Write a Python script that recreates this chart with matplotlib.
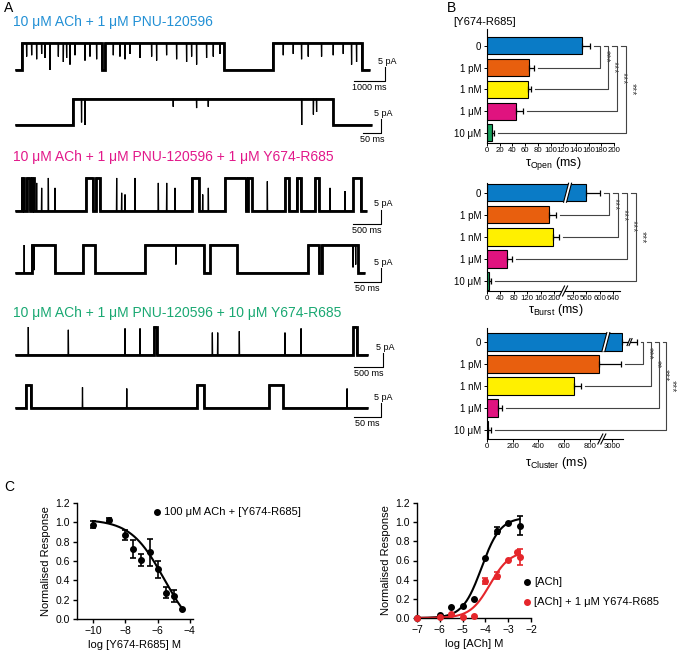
import numpy as np
import matplotlib
matplotlib.use('Agg')
import matplotlib.pyplot as plt
from matplotlib.lines import Line2D
from matplotlib.patches import Polygon
from matplotlib.transforms import IdentityTransform, blended_transform_factory

plt.rcParams['font.family'] = ['Liberation Sans', 'DejaVu Sans']
plt.rcParams['mathtext.fontset'] = 'custom'
plt.rcParams['mathtext.rm'] = 'Liberation Sans'
plt.rcParams['mathtext.it'] = 'Liberation Sans:italic'

# ---------------- data: single channel traces (times in ms, levels as fraction of open) ----
t1_total, t1_amp = 11450, 9.6
t1_open = [(215, 2796), (2903, 6743), (8312, 11183)]
t1_spk_t = [376, 538, 699, 860, 968, 1129, 1398, 1559, 1666, 1774, 1935, 2258, 2419, 2634,
            3171, 3386, 3548, 3709, 4031, 4408, 4569, 4891, 5214, 5536, 5698, 5859, 6181, 6396, 6611,
            8654, 8976, 9245, 9460, 9890, 10266, 10589, 10858, 11019]
t1_spk_lv = [0.5, 0.55, 0.4, 0.6, 0.45, 0.0, 0.5, 0.3, 0.45, 0.2, 0.55, 0.35, 0.5, 0.4,
             0.55, 0.5, 0.4, 0.6, 0.45, 0.5, 0.35, 0.55, 0.4, 0.3, 0.5, 0.2, 0.45, 0.5, 0.6,
             0.55, 0.6, 0.4, 0.5, 0.5, 0.55, 0.6, 0.2, 0.3]

t2_total, t2_amp = 1008, 9.3
t2_open = [(163, 899)]
t2_spk_t = [188, 198, 447, 513, 546, 810, 843, 852]
t2_spk_lv = [0.1, 0.0, 0.7, 0.65, 0.7, 0.0, 0.4, 0.5]

t3_total, t3_amp = 6348, 11.8
t3_open = [(120, 162), (211, 271), (301, 343), (1282, 1402), (1462, 1534), (3189, 3321),
           (3791, 4164), (4212, 4284), (4874, 4946), (5084, 5157), (5415, 5487), (6107, 6240)]
t3_spk_t = [391, 481, 602, 722, 1835, 1925, 1986, 2166, 2587, 2738, 2888, 3388, 3490, 4555, 5686, 5957]
t3_spk_lv = [0.85, 0.7, 1.0, 0.7, 1.0, 0.55, 0.5, 1.0, 0.85, 0.85, 0.7, 0.5, 0.7, 0.9, 0.7, 0.6]

t4_total, t4_amp = 648, 10.0
t4_open = [(31, 74), (126, 149), (241, 350), (362, 412), (543, 563), (568, 636)]
t4_spk_t = [17, 35, 298, 626, 631]
t4_spk_lv = [1.0, 0.1, 0.3, 0.2, 0.3]

t5_total, t5_amp = 6028, 10.0
t5_open = [(2372, 2417), (5773, 5830)]
t5_spk_t = [227, 910, 1877, 2133, 3367, 3458, 3827, 4606, 4880]
t5_spk_lv = [1.0, 0.9, 0.95, 0.95, 0.8, 0.8, 0.85, 0.8, 0.95]

t6_total, t6_amp = 654, 8.2
t6_open = [(20, 29), (337, 350), (471, 497)]
t6_spk_t = [125, 207, 615]
t6_spk_lv = [0.9, 0.85, 0.85]

# ---------------- data: dwell times (panel B) ----------------
conc_labels = ['0', '1 pM', '1 nM', '1 μM', '10 μM']
open_mean = [150, 66, 64, 45, 8]
open_sem = [12, 8, 5, 11, 3]
open_sig = ['***', '***', '***', '***']
burst_mean = [560, 186, 198, 59, 7]
burst_sem = [40, 20, 18, 15, 5]
burst_sig = ['***', '***', '***', '***']
cluster_mean = [3083, 875, 680, 83, 10]
cluster_sem = [112, 2197, 50, 31, 19]
cluster_sig = ['***', '**', '***', '***']

# ---------------- data: concentration response (panel C) ----------------
inh_x = [-10, -9, -8, -7.5, -7, -6.5, -6, -5.5, -5, -4.5]
inh_y = [0.976, 1.024, 0.872, 0.723, 0.612, 0.689, 0.516, 0.273, 0.239, 0.104]
inh_err = [0.038, 0.02, 0.05, 0.095, 0.065, 0.14, 0.087, 0.06, 0.06, 0.0]
inh_fit = (1.03, -0.2, -5.6, -0.42)   # top, bottom, logEC50, slope

ach_x = [-7, -6, -5.5, -5, -4.5, -4, -3.5, -3, -2.5]
ach_y = [0.0, 0.03, 0.11, 0.128, 0.198, 0.63, 0.91, 0.995, 0.963]
ach_err = [0, 0, 0, 0, 0, 0, 0.035, 0, 0.10]
ach_fit = (1.05, 0.0, -4.17, 1.05)

achy_x = [-7, -6, -5.5, -5, -4.5, -4, -3.5, -3, -2.6, -2.5]
achy_y = [0.0, 0.01, 0.04, 0.014, 0.02, 0.389, 0.44, 0.605, 0.685, 0.64]
achy_err = [0, 0, 0, 0, 0, 0.03, 0.036, 0, 0, 0.083]
achy_fit = (0.70, 0.0, -3.8, 1.0)

# ---------------- styles ----------------
W, H = 677, 653
BLUE_T, MAG_T, GREEN_T = '#2290d5', '#e2188a', '#19a872'
RED = '#e5262b'
bar_colors = ['#0a7bc6', '#e85f0e', '#fff000', '#e0137f', '#17a05b']
BRK = '#444444'

fig = plt.figure(figsize=(W / 100, H / 100), dpi=100)


def px_axes(x0, y0, x1, y1):
    return fig.add_axes([x0 / W, 1 - y1 / H, (x1 - x0) / W, (y1 - y0) / H])


def ftext(x, y, s, **kw):
    fig.text(x / W, 1 - y / H, s, **kw)


def trace_xy(total, amp, opens, spk_t, spk_lv, w):
    def lev(t):
        return amp if any(s <= t < e for s, e in opens) else 0.0
    events = [(s, None) for s, e in opens] + [(e, None) for s, e in opens]
    events += list(zip(spk_t, spk_lv))
    events.sort(key=lambda ev: ev[0])
    xs, ys = [0], [lev(0)]
    for t, lv in events:
        if lv is None:
            xs += [t, t]
            ys += [lev(t - 1e-6), lev(t + 1e-6)]
        else:
            c = lev(t)
            xs += [t - w, t, t + w]
            ys += [c, lv * amp, c]
    xs.append(total)
    ys.append(lev(total - 1e-6))
    return xs, ys


# ---------------- panel A ----------------
ftext(4, 8, 'A', fontsize=10, va='center')
ftext(13, 22, '10 μM ACh + 1 μM PNU-120596', color=BLUE_T, fontsize=10, va='center')
ftext(13, 157, '10 μM ACh + 1 μM PNU-120596 + 1 μM Y674-R685', color=MAG_T, fontsize=10, va='center')
ftext(13, 313, '10 μM ACh + 1 μM PNU-120596 + 10 μM Y674-R685', color=GREEN_T, fontsize=10, va='center')

pa_per_px = 5 / 14.0
traces = [
    (t1_total, t1_amp, t1_open, t1_spk_t, t1_spk_lv),
    (t2_total, t2_amp, t2_open, t2_spk_t, t2_spk_lv),
    (t3_total, t3_amp, t3_open, t3_spk_t, t3_spk_lv),
    (t4_total, t4_amp, t4_open, t4_spk_t, t4_spk_lv),
    (t5_total, t5_amp, t5_open, t5_spk_t, t5_spk_lv),
    (t6_total, t6_amp, t6_open, t6_spk_t, t6_spk_lv),
]
# baseline px, ms per px, scale bar ms, scale bar corner px
rows = [(70, 32.26, 1000, 385, 81), (125, 2.825, 50, 381, 133),
        (211, 18.05, 500, 381, 224), (273, 1.852, 50, 381, 282),
        (355, 17.06, 500, 383, 367), (408, 1.852, 50, 381, 417)]

for (total, amp, opens, st, sl), (base, mpp, bar_ms, cx, cy) in zip(traces, rows):
    ax = px_axes(15, base - 45, 420, base + 25)
    ax.set_xlim(0, 405 * mpp)
    ax.set_ylim(-25 * pa_per_px, 45 * pa_per_px)
    ax.axis('off')
    xs, ys = trace_xy(total, amp, opens, st, sl, 0.25 * mpp)
    ax.plot(xs, ys, color='black', lw=0.9, solid_joinstyle='miter')
    xs0, ys0 = trace_xy(total, amp, opens, [], [], 0)
    ax.plot(xs0, ys0, color='black', lw=2.0, solid_joinstyle='miter', solid_capstyle='butt')
    bx = (cx - 15) * mpp
    by = (base - cy) * pa_per_px
    ax.plot([bx - bar_ms, bx, bx], [by, by, by + 5], color='black', lw=0.8, clip_on=False)
    ax.text(bx + 2 * mpp, by + 5 + 1.5 * pa_per_px, '5 pA', fontsize=6.5, ha='center', va='bottom')
    ax.text(bx - bar_ms / 2, by - 2 * pa_per_px, f'{bar_ms} ms', fontsize=6.5, ha='center', va='top')

# ---------------- panel B ----------------
ftext(447, 8, 'B', fontsize=10, va='center')
ftext(453, 22, '[Y674-R685]', fontsize=8, va='center')


def break_scale(a, b, g):
    def fwd(x):
        x = np.asarray(x, float)
        return np.where(x <= a, x, np.where(x <= b, a + (x - a) * g / (b - a), x - b + a + g))

    def inv(t):
        t = np.asarray(t, float)
        return np.where(t <= a, t, np.where(t <= a + g, a + (t - a) * (b - a) / g, t + b - a - g))
    return fwd, inv


def slash(xc, yc, half_h, gap=3.0, slant=2.5):
    poly = [(xc - gap / 2 - slant, yc - half_h), (xc + gap / 2 - slant, yc - half_h),
            (xc + gap / 2 + slant, yc + half_h), (xc - gap / 2 + slant, yc + half_h)]
    fig.add_artist(Polygon(poly, closed=True, facecolor='white', edgecolor='none',
                           transform=IdentityTransform(), zorder=10))
    for dx in (-gap / 2, gap / 2):
        fig.add_artist(Line2D([xc + dx - slant, xc + dx + slant], [yc - half_h, yc + half_h],
                              color='black', lw=0.8, transform=IdentityTransform(), zorder=11))


def bar_panel(box, ylim, means, sems, sigs, vlines_px, xlim, ticks, brk=None):
    x0, y0, x1, y1 = box
    ax = px_axes(x0, y0, x1, y1)
    if brk is not None:
        ax.set_xscale('function', functions=break_scale(*brk))
    y = np.arange(len(means))
    ax.barh(y, means, height=0.78, color=bar_colors, edgecolor='black', linewidth=0.8, zorder=2)
    eb = ax.errorbar(means, y, xerr=[np.zeros(len(means)), sems], fmt='none', ecolor='black',
                     elinewidth=0.9, capsize=2.2, capthick=0.9, zorder=3)
    for art in list(eb.lines[1]) + list(eb.lines[2]):
        art.set_clip_on(False)
    ax.set_xlim(*xlim)
    ax.set_ylim(*ylim)
    ax.set_xticks(ticks)
    ax.set_xticklabels([str(t) for t in ticks])
    ax.set_yticks(y)
    ax.set_yticklabels(conc_labels)
    for s in ('top', 'right'):
        ax.spines[s].set_visible(False)
    for s in ('left', 'bottom'):
        ax.spines[s].set_linewidth(0.8)
    ax.tick_params(axis='x', labelsize=5.6, length=2, width=0.7, pad=1)
    ax.tick_params(axis='y', labelsize=7, length=2, width=0.7, pad=2)

    # significance brackets
    trans = blended_transform_factory(ax.transAxes, ax.transData)
    wpx = x1 - x0
    gap = 4.0 / wpx

    def err_end(i):
        d = ax.transData.transform((means[i] + sems[i], i))[0]
        return (d - ax.bbox.x0) / ax.bbox.width + gap

    prev = err_end(0)
    for i, (vp, sig) in enumerate(zip(vlines_px, sigs), start=1):
        v = (vp - x0) / wpx
        ax.plot([prev, v, v, err_end(i)], [0, 0, i, i], transform=trans, color=BRK,
                lw=0.8, clip_on=False)
        ax.text(v + 1.0 / wpx, i / 2, sig, transform=trans, rotation=270, ha='left',
                va='center', fontsize=7.5, color=BRK)
        prev = v + gap
    return ax


# tau open
bar_panel((487, 29, 614, 143), (4.46, -0.77), open_mean, open_sem, open_sig,
          [600, 608, 617, 626], (0, 200), list(range(0, 201, 20)))
ftext(553, 164, 'τ$_{\\rm Open}$ (ms)', fontsize=9, ha='center', va='center')

# tau burst
burst_brk = (220, 500, 17)
ax_b = bar_panel((487, 183, 620, 291), (4.45, -0.44), burst_mean, burst_sem, burst_sig,
                 [609, 618, 627, 636], (0, 660), [0, 40, 80, 120, 160, 200, 520, 560, 600, 640],
                 brk=burst_brk)
mid = burst_brk[0] + (burst_brk[1] - burst_brk[0]) / 2
xa, ya = ax_b.transData.transform((mid, 4.45))
slash(xa, ya, 5)
xb, yb = ax_b.transData.transform((mid, 0))
slash(xb + 4, yb, 9.5)
ftext(556, 310, 'τ$_{\\rm Burst}$ (ms)', fontsize=9, ha='center', va='center')

# tau cluster
clus_brk = (880, 2938, 30)
ax_c = bar_panel((487, 328, 623, 439), (4.41, -0.64), cluster_mean, cluster_sem, cluster_sig,
                 [643, 651, 659, 666], (0, 3088), [0, 200, 400, 600, 800, 3000], brk=clus_brk)
mid = clus_brk[0] + (clus_brk[1] - clus_brk[0]) / 2
xa, ya = ax_c.transData.transform((mid, 4.41))
slash(xa, ya, 5)
xb, yb = ax_c.transData.transform((mid, 0))
slash(xb + 4, yb, 9.5)
xe, ye = ax_c.transData.transform((cluster_mean[0] + cluster_sem[0] / 2, 0))
slash(xe, ye, 3.5, gap=2.0, slant=1.5)
ftext(556, 463, 'τ$_{\\rm Cluster}$ (ms)', fontsize=9, ha='center', va='center')

# ---------------- panel C ----------------
ftext(4, 487, 'C', fontsize=10, va='center')


def hill(x, p):
    top, bottom, x50, h = p
    return bottom + (top - bottom) / (1 + 10 ** ((x50 - x) * h))


def style_c(ax, xlabel):
    for s in ('top', 'right'):
        ax.spines[s].set_visible(False)
    for s in ('left', 'bottom'):
        ax.spines[s].set_linewidth(1.0)
    ax.tick_params(labelsize=7.5, length=3, width=1.0, pad=2)
    ax.set_ylim(0, 1.2)
    ax.set_yticks(np.arange(0, 1.21, 0.2))
    ax.set_yticklabels([f'{v:.1f}' for v in np.arange(0, 1.21, 0.2)])
    ax.set_ylabel('Normalised Response', fontsize=8, labelpad=3)
    ax.set_xlabel(xlabel, fontsize=8, labelpad=3)


def points(ax, x, y, e, color):
    x, y, e = np.array(x), np.array(y), np.array(e)
    m = e > 0
    eb = ax.errorbar(x[m], y[m], yerr=e[m], fmt='none', ecolor=color, elinewidth=1.2,
                     capsize=2.5, capthick=1.2, zorder=3)
    for art in list(eb.lines[1]) + list(eb.lines[2]):
        art.set_clip_on(False)
    ax.plot(x, y, 'o', color=color, markersize=4, clip_on=False, zorder=4)


axl = px_axes(77, 503, 193, 619)
xf = np.linspace(inh_x[0], inh_x[-1], 200)
axl.plot(xf, hill(xf, inh_fit), color='black', lw=1.5)
points(axl, inh_x, inh_y, inh_err, 'black')
axl.set_xlim(-11, -3.8)
axl.set_xticks([-10, -8, -6, -4])
style_c(axl, 'log [Y674-R685] M')

axr = px_axes(417, 503, 531, 618)
xf = np.linspace(-7, -2.5, 200)
axr.plot(xf, hill(xf, ach_fit), color='black', lw=1.5)
axr.plot(xf, hill(xf, achy_fit), color=RED, lw=1.5)
points(axr, ach_x, ach_y, ach_err, 'black')
points(axr, achy_x, achy_y, achy_err, RED)
axr.set_xlim(-7, -2)
axr.set_xticks([-7, -6, -5, -4, -3, -2])
style_c(axr, 'log [ACh] M')

# legends
for (mx, my, col, label) in [(157, 512, 'black', '100 μM ACh + [Y674-R685]'),
                             (527, 582, 'black', '[ACh]'),
                             (527, 602, RED, '[ACh] + 1 μM Y674-R685')]:
    fig.add_artist(Line2D([mx / W], [1 - my / H], marker='o', color=col, markersize=4,
                          linestyle='none', transform=fig.transFigure))
    ftext(mx + 7, my, label, fontsize=8, va='center')

fig.savefig('out.png', dpi=100)
